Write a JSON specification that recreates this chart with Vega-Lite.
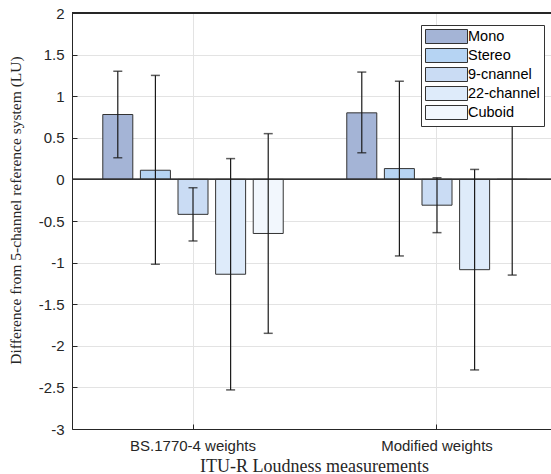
{
  "$schema": "https://vega.github.io/schema/vega-lite/v6.json",
  "width": 479,
  "height": 416,
  "autosize": {"type": "none"},
  "padding": {"left": 72, "top": 13, "right": 0, "bottom": 45},
  "background": "white",
  "config": {
    "font": "Liberation Sans",
    "view": {"stroke": null},
    "axis": {
      "domainColor": "#262626",
      "tickColor": "#262626",
      "labelColor": "#262626",
      "labelFont": "Liberation Sans",
      "labelFontSize": 15,
      "titleFont": "Liberation Serif",
      "titleFontSize": 16,
      "titleFontWeight": "normal",
      "titleColor": "#262626",
      "gridColor": "#e3e3e3",
      "gridWidth": 1
    }
  },
  "data": {
    "values": [
      {"group": "BS.1770-4 weights", "series": "Mono", "value": 0.78, "lo": 0.26, "hi": 1.30},
      {"group": "BS.1770-4 weights", "series": "Stereo", "value": 0.11, "lo": -1.02, "hi": 1.25},
      {"group": "BS.1770-4 weights", "series": "9-cnannel", "value": -0.42, "lo": -0.74, "hi": -0.10},
      {"group": "BS.1770-4 weights", "series": "22-channel", "value": -1.14, "lo": -2.53, "hi": 0.25},
      {"group": "BS.1770-4 weights", "series": "Cuboid", "value": -0.65, "lo": -1.85, "hi": 0.55},
      {"group": "Modified weights", "series": "Mono", "value": 0.80, "lo": 0.32, "hi": 1.29},
      {"group": "Modified weights", "series": "Stereo", "value": 0.13, "lo": -0.92, "hi": 1.18},
      {"group": "Modified weights", "series": "9-cnannel", "value": -0.31, "lo": -0.64, "hi": 0.02},
      {"group": "Modified weights", "series": "22-channel", "value": -1.085, "lo": -2.29, "hi": 0.12},
      {"group": "Modified weights", "series": "Cuboid", "value": 0.0, "lo": -1.15, "hi": 1.15}
    ]
  },
  "encoding": {
    "x": {
      "field": "group",
      "type": "nominal",
      "sort": null,
      "scale": {"type": "band", "paddingInner": 0.2, "paddingOuter": 0.0816, "align": 0.588},
      "axis": {
        "title": "ITU-R Loudness measurements",
        "labelAngle": 0,
        "bandPosition": 0.5,
        "grid": true,
        "tickSize": -5,
        "labelPadding": 14,
        "titleX": 242,
        "titleY": 42,
        "titleFontSize": 18,
        "titleBaseline": "alphabetic"
      }
    },
    "xOffset": {
      "field": "series",
      "type": "nominal",
      "sort": ["Mono", "Stereo", "9-cnannel", "22-channel", "Cuboid"],
      "scale": {"paddingInner": 0.202, "paddingOuter": 0.196}
    }
  },
  "layer": [
    {
      "mark": {"type": "bar", "stroke": "#333333", "strokeWidth": 1, "opacity": 1},
      "encoding": {
        "y": {
          "field": "value",
          "type": "quantitative",
          "scale": {"domain": [-3, 2], "nice": false, "zero": false},
          "axis": {
            "title": "Difference from 5-channel reference system (LU)",
            "values": [-3, -2.5, -2, -1.5, -1, -0.5, 0, 0.5, 1, 1.5, 2],
            "labelExpr": "'' + datum.value",
            "grid": true,
            "tickSize": -5,
            "labelPadding": 13,
            "titleX": -52,
            "titleY": 197,
            "titleFontSize": 15.5,
            "titleBaseline": "alphabetic",
            "titleAngle": -90
          }
        },
        "fill": {
          "field": "series",
          "type": "nominal",
          "sort": ["Mono", "Stereo", "9-cnannel", "22-channel", "Cuboid"],
          "scale": {
            "domain": ["Mono", "Stereo", "9-cnannel", "22-channel", "Cuboid"],
            "range": ["#a4b4d6", "#b6d4f3", "#cadcf4", "#deebfa", "#f2f7fd"]
          },
          "legend": {
            "title": null,
            "orient": "none",
            "legendX": 349,
            "legendY": 12,
            "symbolType": "M-3,-1H3V1H-3Z",
            "symbolSize": 196,
            "symbolOffset": 14,
            "symbolStrokeColor": "#333333",
            "symbolStrokeWidth": 1,
            "symbolOpacity": 1,
            "labelOffset": 14,
            "labelFont": "Liberation Sans",
            "labelFontSize": 14.5,
            "labelColor": "#000000",
            "rowPadding": 0,
            "padding": 4,
            "strokeColor": "#333333",
            "fillColor": "white"
          }
        }
      }
    },
    {
      "mark": {"type": "rule", "color": "#333333", "strokeWidth": 1},
      "encoding": {"y": {"datum": 0}, "x": null, "xOffset": null}
    },
    {
      "mark": {"type": "rule", "color": "#1a1a1a", "strokeWidth": 1.2},
      "encoding": {
        "y": {"field": "lo", "type": "quantitative"},
        "y2": {"field": "hi"}
      }
    },
    {
      "mark": {"type": "tick", "color": "#1a1a1a", "orient": "horizontal", "size": 9, "thickness": 1.5},
      "encoding": {"y": {"field": "lo", "type": "quantitative"}}
    },
    {
      "mark": {"type": "tick", "color": "#1a1a1a", "orient": "horizontal", "size": 9, "thickness": 1.5},
      "encoding": {"y": {"field": "hi", "type": "quantitative"}}
    },
    {
      "mark": {"type": "rule", "color": "#262626", "strokeWidth": 1},
      "encoding": {"y": {"datum": 2}, "x": null, "xOffset": null}
    }
  ]
}
